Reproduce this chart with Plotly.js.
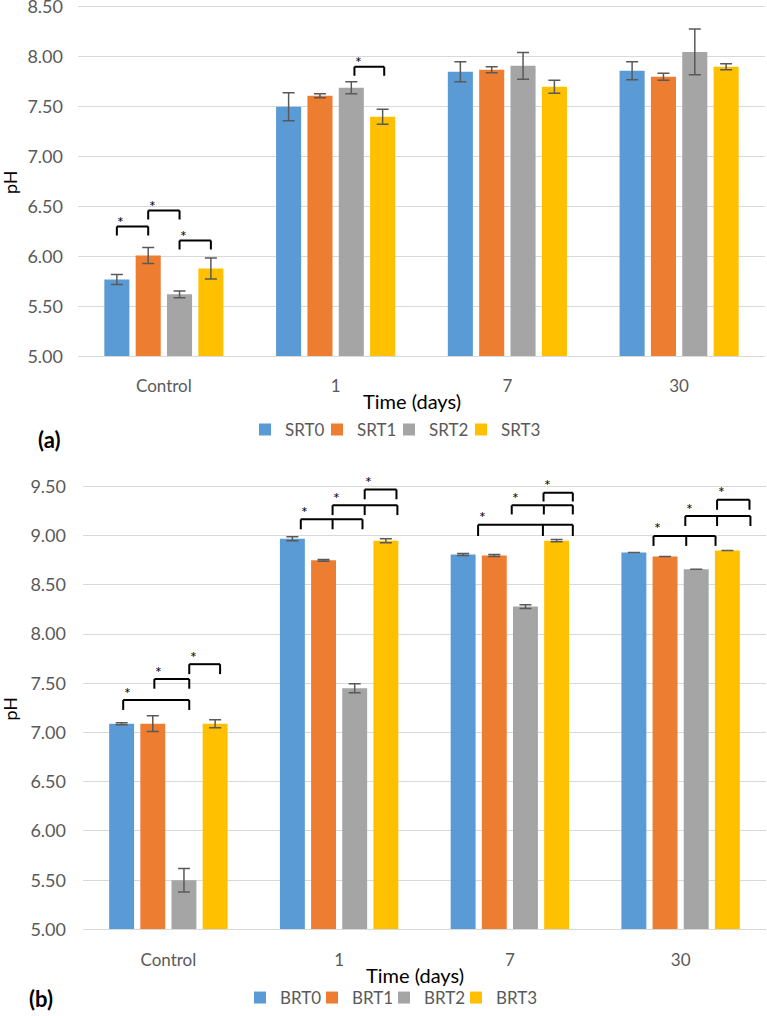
<!DOCTYPE html>
<html>
<head>
<meta charset="utf-8">
<script src="https://cdn.plot.ly/plotly-3.0.1.min.js"></script>
<style>html,body{margin:0;padding:0;background:#fff;}#chart{width:767px;height:1016px;}</style>
</head>
<body>
<div id="chart"></div>
<script>
// ---------- data ----------
const categories = ['Control', '1', '7', '30'];

const seriesA = ['SRT0', 'SRT1', 'SRT2', 'SRT3'];
const SRT0 = [5.77, 7.50, 7.85, 7.86];
const SRT1 = [6.01, 7.61, 7.87, 7.80];
const SRT2 = [5.62, 7.69, 7.91, 8.05];
const SRT3 = [5.88, 7.40, 7.70, 7.90];
const SRT0_err = [0.05, 0.14, 0.10, 0.09];
const SRT1_err = [0.08, 0.02, 0.03, 0.035];
const SRT2_err = [0.035, 0.06, 0.135, 0.23];
const SRT3_err = [0.105, 0.075, 0.065, 0.03];

const seriesB = ['BRT0', 'BRT1', 'BRT2', 'BRT3'];
const BRT0 = [7.09, 8.97, 8.81, 8.83];
const BRT1 = [7.09, 8.75, 8.80, 8.79];
const BRT2 = [5.50, 7.45, 8.28, 8.66];
const BRT3 = [7.09, 8.95, 8.95, 8.85];
const BRT0_err = [0.01, 0.02, 0.01, 0];
const BRT1_err = [0.08, 0.01, 0.01, 0];
const BRT2_err = [0.12, 0.045, 0.02, 0];
const BRT3_err = [0.04, 0.02, 0.012, 0];

// significance brackets: [category index, bar slots (ends + inner ticks), top y, leg-bottom y]
const sigA = [
  [0, [0, 1], 6.30, 6.21],
  [0, [1, 2], 6.46, 6.37],
  [0, [2, 3], 6.16, 6.07],
  [1, [2.1, 3.05], 7.90, 7.81]
];
const sigB = [
  [0, [0.05, 2.17], 7.33, 7.23],
  [0, [1.05, 2.17], 7.544, 7.446],
  [0, [2.17, 3.16], 7.695, 7.594],
  [1, [0.27, 1.29, 2.25], 9.167, 9.066],
  [1, [1.29, 2.32, 3.37], 9.309, 9.21],
  [1, [2.32, 3.34], 9.47, 9.37],
  [2, [0.48, 2.56, 3.52], 9.112, 8.998],
  [2, [1.56, 2.59, 3.52], 9.309, 9.217],
  [2, [2.58, 3.52], 9.436, 9.349],
  [3, [0.63, 1.68, 2.62], 8.998, 8.897],
  [3, [1.65, 2.67, 3.74], 9.20, 9.099],
  [3, [2.67, 3.71], 9.365, 9.264]
];

// ---------- styling ----------
const colors = ['#5B9BD5', '#ED7D31', '#A5A5A5', '#FFC000'];
const FONT = 'Lato, "Open Sans", sans-serif';
const W = 767, H = 1016;
const px = x => x / W;
const py = y => 1 - y / H;
const BARGAP = 0.27, BARGROUPGAP = 0.2;
const pitch = (1 - BARGAP) / 4;
const slotX = (cat, s) => cat + (s - 1.5) * pitch;

const valsA = [SRT0, SRT1, SRT2, SRT3];
const errsA = [SRT0_err, SRT1_err, SRT2_err, SRT3_err];
const valsB = [BRT0, BRT1, BRT2, BRT3];
const errsB = [BRT0_err, BRT1_err, BRT2_err, BRT3_err];

const traces = [];
function addTraces(names, vals, errs, xa, ya, leg) {
  names.forEach((n, i) => {
    traces.push({
      type: 'bar', name: n, x: categories, y: vals[i],
      xaxis: xa, yaxis: ya, legend: leg,
      marker: {color: colors[i]},
      error_y: {type: 'data', array: errs[i], visible: true, color: '#595959', thickness: 1.5, width: 6},
      hoverinfo: 'y'
    });
  });
  // empty spacer entry so the last legend label is not clipped
  traces.push({type: 'scatter', mode: 'none', name: ' ', x: [null], y: [null],
    xaxis: xa, yaxis: ya, legend: leg, showlegend: true, hoverinfo: 'skip'});
}
addTraces(seriesA, valsA, errsA, 'x', 'y', 'legend');
addTraces(seriesB, valsB, errsB, 'x2', 'y2', 'legend2');

const shapes = [];
const annotations = [];
function addBrackets(list, xref, yref, starShift) {
  list.forEach(([cat, slots, yt, yb]) => {
    const xs = slots.map(s => slotX(cat, s));
    const line = {color: '#000', width: 2};
    shapes.push({type: 'line', xref, yref, x0: xs[0], x1: xs[xs.length - 1], y0: yt, y1: yt, line});
    xs.forEach(x => shapes.push({type: 'line', xref, yref, x0: x, x1: x, y0: yt, y1: yb, line}));
    annotations.push({xref, yref, x: xs[0], y: yt, text: '*', showarrow: false,
      xanchor: 'center', yanchor: 'middle', xshift: 4, yshift: starShift,
      font: {family: FONT, size: 16, color: '#000'}});
  });
}
addBrackets(sigA, 'x', 'y', 5);
addBrackets(sigB, 'x2', 'y2', 8);

const tickFontX = {family: FONT, size: 17, color: '#595959'};
const tickFontY = {family: FONT, size: 18, color: '#595959'};
function txt(text, x, y, size, opts) {
  return Object.assign({xref: 'paper', yref: 'paper', x: px(x), y: py(y), text, showarrow: false,
    xanchor: 'center', yanchor: 'middle', font: {family: FONT, size, color: '#000'}}, opts || {});
}
annotations.push(txt('pH', 10, 183, 18, {textangle: -90}));
annotations.push(txt('pH', 10, 712, 18, {textangle: -90}));
annotations.push(txt('Time (days)', 412, 403, 20));
annotations.push(txt('Time (days)', 415, 980, 20));
annotations.push(txt('<b>(a)</b>', 49, 442, 22));
annotations.push(txt('<b>(b)</b>', 41, 1003, 22));

const xaxisBase = {
  type: 'category', showgrid: false, zeroline: false, showline: true,
  linecolor: '#d9d9d9', linewidth: 1, ticks: '', tickfont: tickFontX,
  ticklabelstandoff: 14, fixedrange: true
};
const yaxisBase = {
  tick0: 5, dtick: 0.5, tickformat: '.2f', showgrid: true, gridcolor: '#d9d9d9', gridwidth: 1,
  zeroline: false, showline: false, ticks: '', tickfont: tickFontY, fixedrange: true,
  ticklabeloverflow: 'allow'
};
const legendBase = {
  orientation: 'h', xanchor: 'left', yanchor: 'middle',
  font: {family: FONT, size: 17, color: '#595959'}, bgcolor: 'rgba(0,0,0,0)',
  itemwidth: 30, entrywidth: 27, entrywidthmode: 'pixels', traceorder: 'normal',
  itemclick: false, itemdoubleclick: false
};

const layout = {
  width: W, height: H,
  margin: {l: 0, r: 0, t: 0, b: 0},
  paper_bgcolor: '#fff', plot_bgcolor: '#fff',
  barmode: 'group', bargap: BARGAP, bargroupgap: BARGROUPGAP,
  showlegend: true,
  xaxis: Object.assign({}, xaxisBase, {domain: [px(78), px(765)], anchor: 'y'}),
  yaxis: Object.assign({}, yaxisBase, {domain: [py(358), py(4)], range: [5, 8.53], anchor: 'x', ticklabelstandoff: 14}),
  xaxis2: Object.assign({}, xaxisBase, {domain: [px(83), px(766)], anchor: 'y2', ticklabelstandoff: 15}),
  yaxis2: Object.assign({}, yaxisBase, {domain: [py(934), py(486)], range: [5, 9.53], anchor: 'x2', ticklabelstandoff: 16}),
  legend: Object.assign({}, legendBase, {x: px(245), y: py(432)}),
  legend2: Object.assign({}, legendBase, {x: px(240), y: py(1003)}),
  shapes, annotations
};

Plotly.newPlot('chart', traces, layout, {displayModeBar: false, staticPlot: true});
</script>
</body>
</html>
